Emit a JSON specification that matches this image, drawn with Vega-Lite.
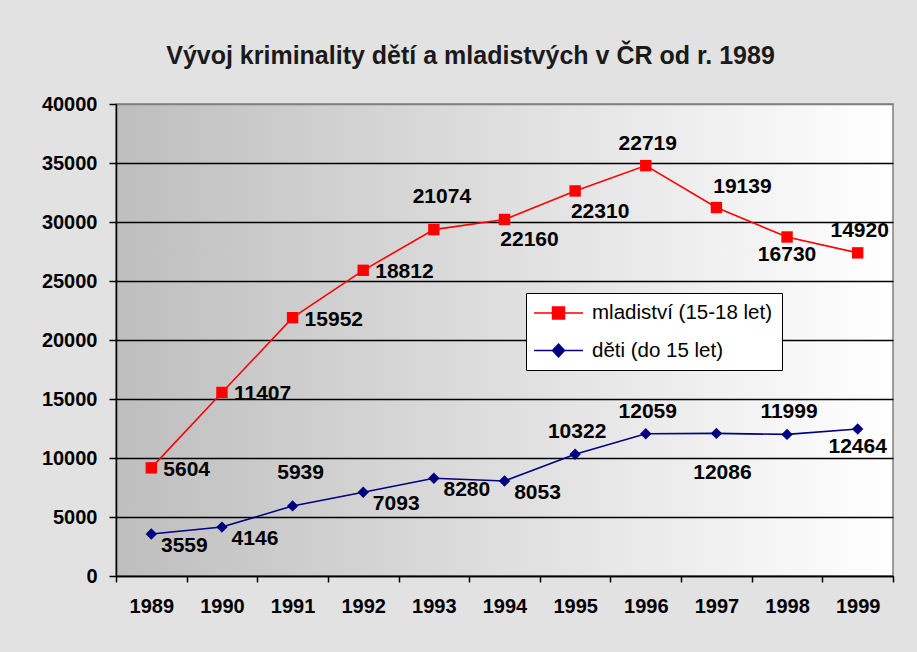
{
  "$schema": "https://vega.github.io/schema/vega-lite/v6.json",
  "width": 777,
  "height": 472,
  "autosize": {"type": "none"},
  "padding": {"left": 116, "top": 104, "right": 24, "bottom": 76},
  "background": "#e2e2e2",
  "title": {
    "text": "Vývoj kriminality dětí a mladistvých v ČR od r. 1989",
    "font": "Liberation Sans",
    "fontSize": 25,
    "fontWeight": "bold",
    "color": "#1a1a1a",
    "anchor": "middle",
    "frame": "group",
    "dx": -34,
    "offset": 25
  },
  "config": {
    "view": {
      "stroke": "#808080",
      "strokeWidth": 1.5,
      "fill": {
        "gradient": "linear",
        "x1": 0, "y1": 0, "x2": 1, "y2": 0,
        "stops": [
          {"offset": 0, "color": "#bebebe"},
          {"offset": 1, "color": "#ffffff"}
        ]
      }
    },
    "text": {"font": "Liberation Sans", "fontWeight": "bold", "fontSize": 21, "color": "black", "baseline": "middle"}
  },
  "data": {
    "values": [
      {"series": "děti (do 15 let)", "year": 1989, "value": 3559},
      {"series": "děti (do 15 let)", "year": 1990, "value": 4146},
      {"series": "děti (do 15 let)", "year": 1991, "value": 5939},
      {"series": "děti (do 15 let)", "year": 1992, "value": 7093},
      {"series": "děti (do 15 let)", "year": 1993, "value": 8280},
      {"series": "děti (do 15 let)", "year": 1994, "value": 8053},
      {"series": "děti (do 15 let)", "year": 1995, "value": 10322},
      {"series": "děti (do 15 let)", "year": 1996, "value": 12059},
      {"series": "děti (do 15 let)", "year": 1997, "value": 12086},
      {"series": "děti (do 15 let)", "year": 1998, "value": 11999},
      {"series": "děti (do 15 let)", "year": 1999, "value": 12464},
      {"series": "mladiství (15-18 let)", "year": 1989, "value": 5604},
      {"series": "mladiství (15-18 let)", "year": 1990, "value": 11407},
      {"series": "mladiství (15-18 let)", "year": 1991, "value": 15952},
      {"series": "mladiství (15-18 let)", "year": 1992, "value": 18812},
      {"series": "mladiství (15-18 let)", "year": 1993, "value": 21074},
      {"series": "mladiství (15-18 let)", "year": 1994, "value": 22160},
      {"series": "mladiství (15-18 let)", "year": 1995, "value": 22310},
      {"series": "mladiství (15-18 let)", "year": 1996, "value": 22719},
      {"series": "mladiství (15-18 let)", "year": 1997, "value": 19139},
      {"series": "mladiství (15-18 let)", "year": 1998, "value": 16730},
      {"series": "mladiství (15-18 let)", "year": 1999, "value": 14920}
    ]
  },
  "transform": [
    {"stack": "value", "groupby": ["year"], "sort": [{"field": "series", "order": "ascending"}], "as": ["y0", "y1"]}
  ],
  "encoding": {
    "x": {
      "field": "year",
      "type": "ordinal",
      "scale": {"type": "band", "paddingInner": 0, "paddingOuter": 0},
      "axis": {
        "title": null,
        "labelAngle": 0,
        "labelFont": "Liberation Sans",
        "labelFontSize": 20,
        "labelFontWeight": "bold",
        "labelColor": "black",
        "labelPadding": 14,
        "tickBand": "extent",
        "tickSize": 6,
        "tickColor": "black",
        "tickWidth": 1.5,
        "domainColor": "black",
        "domainWidth": 1.5,
        "grid": false
      }
    },
    "y": {
      "field": "y1",
      "type": "quantitative",
      "scale": {"domain": [0, 40000], "nice": false},
      "axis": {
        "title": null,
        "values": [0, 5000, 10000, 15000, 20000, 25000, 30000, 35000, 40000],
        "grid": true,
        "gridColor": {"condition": {"test": "datum.value === 40000", "value": "#808080"}, "value": "black"},
        "gridWidth": 1.3,
        "gridOpacity": 1,
        "tickSize": 7,
        "tickColor": "black",
        "tickWidth": 1.5,
        "domainColor": "black",
        "domainWidth": 1.5,
        "labelFont": "Liberation Sans",
        "labelFontSize": 20,
        "labelFontWeight": "bold",
        "labelColor": "black",
        "labelPadding": 12,
        "format": "d"
      }
    }
  },
  "layer": [
    {
      "mark": {"type": "line", "strokeWidth": 1.6},
      "encoding": {
        "color": {
          "field": "series",
          "type": "nominal",
          "scale": {"domain": ["mladiství (15-18 let)", "děti (do 15 let)"], "range": ["#ff0000", "#000080"]},
          "legend": {
            "title": null,
            "orient": "none",
            "legendX": 410,
            "legendY": 189,
            "fillColor": "white",
            "strokeColor": "black",
            "padding": 9,
            "labelFont": "Liberation Sans",
            "labelFontSize": 20.5,
            "labelColor": "black",
            "labelLimit": 400,
            "symbolSize": 400,
            "symbolOffset": 12.5,
            "labelOffset": 22.5,
            "rowPadding": 15.5,
            "symbolStrokeWidth": 1.5,
            "encode": {
              "symbols": {
                "update": {
                  "shape": {"signal": "datum.value === 'děti (do 15 let)' ? 'M-2.45,0L2.45,0M0,-0.65L0.6,0L0,0.65L-0.6,0Z' : 'M-2.45,0L2.45,0M-0.6,-0.6L0.6,-0.6L0.6,0.6L-0.6,0.6Z'"},
                  "fill": {"signal": "datum.value === 'děti (do 15 let)' ? '#000080' : '#ff0000'"},
                  "stroke": {"signal": "datum.value === 'děti (do 15 let)' ? '#000080' : '#ff0000'"},
                  "strokeWidth": {"value": 1.5},
                  "opacity": {"value": 1},
                  "fillOpacity": {"value": 1}
                }
              }
            }
          }
        }
      }
    },
    {
      "transform": [{"filter": "datum.series[0] === 'm'"}],
      "mark": {"type": "point", "shape": "square", "filled": true, "opacity": 1, "color": "#ff0000", "size": 130}
    },
    {
      "transform": [{"filter": "datum.series[0] === 'd'"}],
      "mark": {"type": "point", "shape": "diamond", "filled": true, "opacity": 1, "color": "#000080", "size": 130}
    },
    {
      "transform": [{"filter": "datum.series[0] === 'm' && indexof([1989, 1990, 1991, 1992], datum.year) >= 0"}],
      "mark": {"type": "text", "align": "left", "dx": 12, "dy": 2},
      "encoding": {"text": {"field": "value", "type": "quantitative", "format": "d"}}
    },
    {
      "transform": [{"filter": "datum.series[0] === 'd' && indexof([1989, 1990, 1992, 1993, 1994], datum.year) >= 0"}],
      "mark": {"type": "text", "align": "center", "dx": 33, "dy": 12},
      "encoding": {"text": {"field": "value", "type": "quantitative", "format": "d"}}
    },
    {
      "transform": [{"filter": "datum.series[0] === 'm' && indexof([1994, 1995], datum.year) >= 0"}],
      "mark": {"type": "text", "align": "center", "dx": 25, "dy": 21},
      "encoding": {"text": {"field": "value", "type": "quantitative", "format": "d"}}
    },
    {
      "transform": [{"filter": "(datum.series[0] === 'm' && indexof([1996, 1999], datum.year) >= 0) || (datum.series[0] === 'd' && indexof([1995, 1996, 1998], datum.year) >= 0)"}],
      "mark": {"type": "text", "align": "center", "dx": 2, "dy": -22},
      "encoding": {"text": {"field": "value", "type": "quantitative", "format": "d"}}
    },
    {
      "transform": [{"filter": "(datum.series[0] === 'm' && datum.year === 1993) || (datum.series[0] === 'd' && datum.year === 1991)"}],
      "mark": {"type": "text", "align": "center", "dx": 8, "dy": -33},
      "encoding": {"text": {"field": "value", "type": "quantitative", "format": "d"}}
    },
    {
      "transform": [{"filter": "datum.series[0] === 'm' && datum.year === 1997"}],
      "mark": {"type": "text", "align": "center", "dx": 26, "dy": -21},
      "encoding": {"text": {"field": "value", "type": "quantitative", "format": "d"}}
    },
    {
      "transform": [{"filter": "(datum.series[0] === 'm' && datum.year === 1998) || (datum.series[0] === 'd' && datum.year === 1999)"}],
      "mark": {"type": "text", "align": "center", "dx": 0, "dy": 18},
      "encoding": {"text": {"field": "value", "type": "quantitative", "format": "d"}}
    },
    {
      "transform": [{"filter": "datum.series[0] === 'd' && datum.year === 1997"}],
      "mark": {"type": "text", "align": "center", "dx": 6, "dy": 40},
      "encoding": {"text": {"field": "value", "type": "quantitative", "format": "d"}}
    }
  ]
}
